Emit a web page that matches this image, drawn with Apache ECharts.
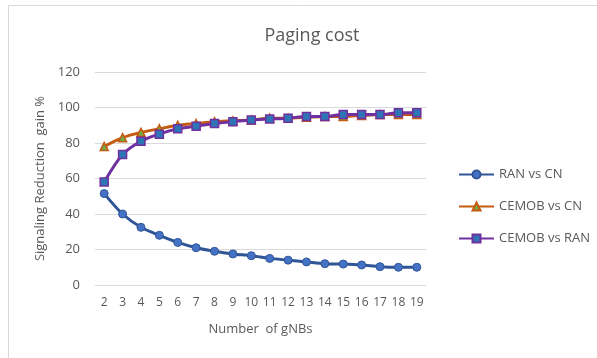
<!DOCTYPE html>
<html><head><meta charset="utf-8">
<script src="https://cdn.jsdelivr.net/npm/echarts@6/dist/echarts.min.js"></script>
<style>html,body{margin:0;padding:0;background:#fff}#c{width:597px;height:358px}</style>
</head><body><div id="c"></div>
<script>
const categories = ['2','3','4','5','6','7','8','9','10','11','12','13','14','15','16','17','18','19'];
const ranVsCn = [51.5,40,32.5,28,24,21,19,17.5,16.5,15,14,13,12,11.8,11.3,10.3,10,10];
const cemobVsCn = [78,83,86,88,90,91,92,92.5,93,94,94,94.5,95,95,95.5,96,96,96];
const cemobVsRan = [58,73.5,81,85,88,89.5,91,92,93,93.5,94,95,95,96,96,96,97,97];
const yTicks = [0,20,40,60,80,100,120];

const font = 'Open Sans';
const chart = echarts.init(document.getElementById('c'));
chart.setOption({
  animation:false,
  textStyle:{fontFamily:font},
  title:{text:'Paging cost',left:307,top:22,textAlign:'center',textStyle:{fontFamily:font,fontSize:18,fontWeight:'normal',color:'#595959'}},
  graphic:[{type:'rect',shape:{x:8.5,y:5.5,width:600,height:360},style:{fill:'none',stroke:'#d9d9d9',lineWidth:1}}],
  grid:{left:95,right:171,top:72,bottom:73},
  legend:{orient:'vertical',left:453,top:163,itemGap:19,itemWidth:35,itemHeight:10,
    textStyle:{fontFamily:font,fontSize:13,color:'#595959'},
    data:['RAN vs CN','CEMOB vs CN','CEMOB vs RAN']},
  xAxis:{type:'category',data:categories,boundaryGap:true,
    name:'Number  of gNBs',nameLocation:'middle',nameGap:38,
    nameTextStyle:{fontFamily:font,fontSize:13,color:'#595959'},
    axisLine:{show:false},axisTick:{show:false},
    axisLabel:{fontFamily:font,fontSize:12,color:'#595959',margin:12,interval:0}},
  yAxis:{type:'value',min:0,max:120,interval:20,
    name:'Signaling Reduction  gain %',nameLocation:'middle',nameGap:43,
    nameTextStyle:{fontFamily:font,fontSize:13,color:'#595959'},
    axisLine:{show:false},axisTick:{show:false},
    axisLabel:{fontFamily:font,fontSize:13,color:'#595959',margin:15,
      formatter:v=>yTicks.includes(v)?String(v):''},
    splitLine:{lineStyle:{color:'#d9d9d9',width:1}}},
  series:[
    {name:'RAN vs CN',type:'line',data:ranVsCn,smooth:0.3,symbol:'circle',symbolSize:8,
     lineStyle:{color:'#2f5597',width:3},itemStyle:{color:'#4472c4',borderColor:'#2f5597',borderWidth:1}},
    {name:'CEMOB vs CN',type:'line',data:cemobVsCn,smooth:0.3,symbol:'triangle',symbolSize:8,
     lineStyle:{color:'#c55a11',width:3},itemStyle:{color:'#70ad47',borderColor:'#c55a11',borderWidth:1.5}},
    {name:'CEMOB vs RAN',type:'line',data:cemobVsRan,smooth:0.3,symbol:'rect',symbolSize:8,
     lineStyle:{color:'#7030a0',width:3},itemStyle:{color:'#2e75b6',borderColor:'#7030a0',borderWidth:1.5}}
  ]
});
</script></body></html>
